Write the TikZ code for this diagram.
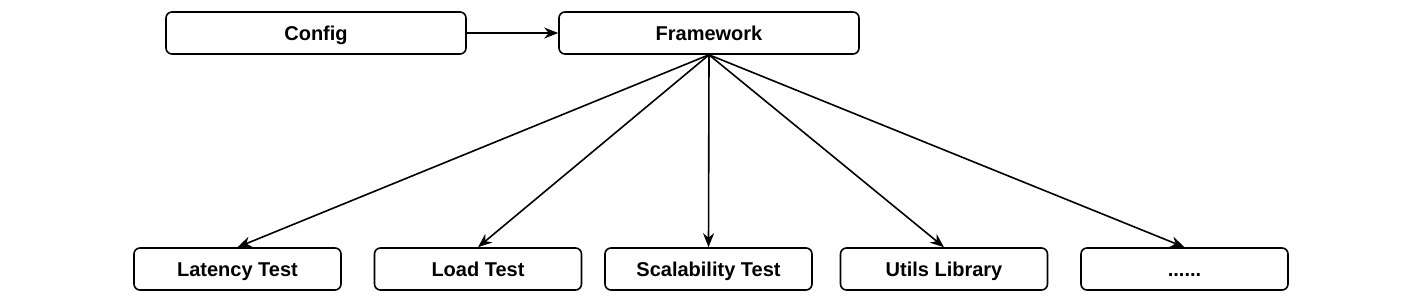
\documentclass[tikz,border=0pt]{standalone}
\usepackage{fontspec}
\setmainfont{Liberation Sans}
\usetikzlibrary{arrows.meta}
\tikzset{
  box/.style={draw, rectangle, rounded corners=3pt, line width=0.8pt, font=\bfseries, minimum height=21pt, inner sep=0pt, text height=7.2pt, text depth=0pt},
  topbox/.style={box, minimum width=150pt},
  testbox/.style={box, minimum width=103.5pt},
  arr/.style={-{Stealth[length=7pt, width=5.5pt]}, line width=0.8pt}
}
\begin{document}
\begin{tikzpicture}[x=0.5pt, y=-0.5pt]
    \useasboundingbox (0,0) rectangle (1414,296);
    \node[topbox] (config) at (316,33) {Config};
    \node[topbox] (fw) at (709,33) {Framework};
    \node[testbox] (latency) at (237.5,269) {Latency Test};
    \node[testbox] (load) at (478,269) {Load Test};
    \node[testbox] (scale) at (708.5,269) {Scalability Test};
    \node[testbox] (utils) at (944,269) {Utils Library};
    \node[testbox] (more) at (1184.5,269) {......};

    \draw[arr] (config) -- (fw);
    \draw[arr] (fw.south) -- (latency.north);
    \draw[arr] (fw.south) -- (load.north);
    \draw[arr] (fw.south) -- (scale.north);
    \draw[arr] (fw.south) -- (utils.north);
    \draw[arr] (fw.south) -- (more.north);
\end{tikzpicture}
\end{document}
